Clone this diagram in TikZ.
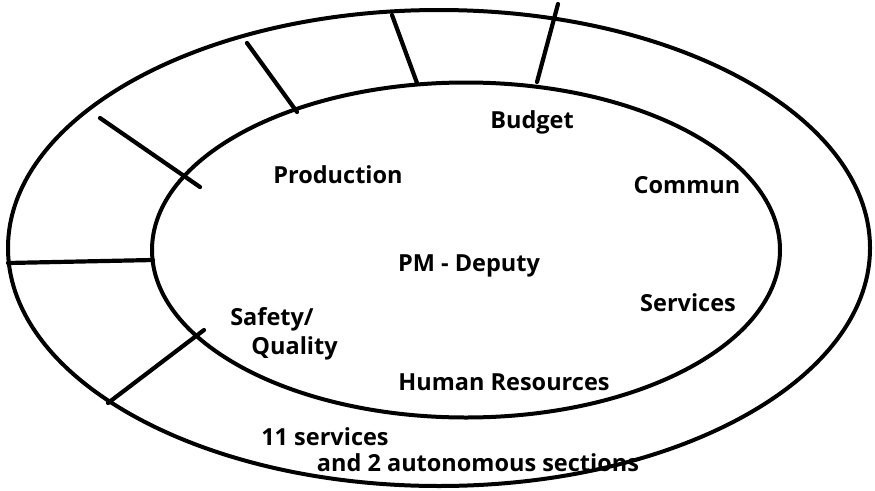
\documentclass[tikz,border=0pt]{standalone}
\usepackage{fontspec}
\setmainfont{Open Sans}
\usetikzlibrary{shapes.geometric, positioning}

\begin{document}
\begin{tikzpicture}[
    x=1pt, y=-1pt,
    ring/.style={ellipse, draw=black, line width=4pt, inner sep=0pt},
    divider/.style={draw=black, line width=4.2pt, line cap=round},
    unit/.style={font=\fontsize{23.5}{29}\selectfont\bfseries, align=left, inner sep=0pt}
]
    \useasboundingbox (0,0) rectangle (875,490);

    % the two rings
    \node (outer) [ring, minimum width=862pt, minimum height=476pt] at (439,248) {};
    \node (inner) [ring, minimum width=628pt, minimum height=335pt] at (466,250) {};

    % ends of the dividers across the outer ring
    \coordinate (d1a) at (558,4);   \coordinate (d1b) at (537,82);
    \coordinate (d2a) at (392,15);  \coordinate (d2b) at (417,83);
    \coordinate (d3a) at (247,43);  \coordinate (d3b) at (297,112);
    \coordinate (d4a) at (100,118); \coordinate (d4b) at (200,187);
    \coordinate (d5a) at (8,263);   \coordinate (d5b) at (153,260);
    \coordinate (d6a) at (108,403); \coordinate (d6b) at (204,330);

    \foreach \i in {1,...,6}
        \draw[divider] (d\i a) -- (d\i b);

    % units inside the inner ring
    \node (pm) [unit] at (469,266) {PM - Deputy};
    \node (budget) [unit] at (532,122) {Budget};
    \node (prod) [unit] at (338,175) {Production};
    \node (commun) [unit] at (687,185) {Commun};
    \node (serv) [unit] at (688,303) {Services};
    \node (safety) [unit] at (284,334) {Safety/\\\hspace{0.9em}Quality};
    \node (hr) [unit] at (504,382) {Human Resources};

    % outer ring caption
    \node (eleven) [unit] at (325,437) {11 services};
    \node (auto) [unit] at (478,463) {and 2 autonomous sections};
\end{tikzpicture}
\end{document}
